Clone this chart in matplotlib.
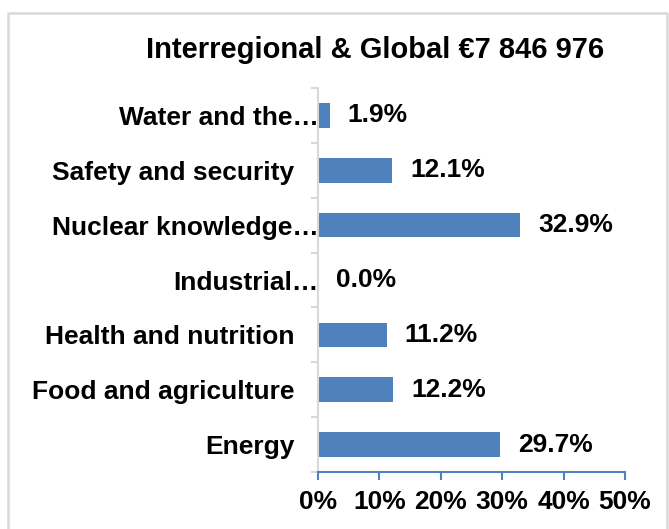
import matplotlib.pyplot as plt
from matplotlib.lines import Line2D
import matplotlib.transforms as mtransforms
import numpy as np

plt.rcParams['font.family'] = ['Liberation Sans', 'DejaVu Sans']
plt.rcParams['font.weight'] = 'bold'

# data (top to bottom in picture)
categories = ["Water and the…", "Safety and security", "Nuclear knowledge…",
              "Industrial…", "Health and nutrition", "Food and agriculture", "Energy"]
shares = [1.9, 12.1, 32.9, 0.0, 11.2, 12.2, 29.7]
xticks = [0, 10, 20, 30, 40, 50]

W, H = 669, 529
fig = plt.figure(figsize=(W / 100, H / 100), dpi=100)
ax = fig.add_axes([318/W, 1 - 472/H, 307/W, 384/H])

# light grey frame round the chart (left, top, right)
fx = [7.5/W, 7.5/W, 667/W, 667/W]
fy = [0, 1 - 12.5/H, 1 - 12.5/H, 0]
fig.add_artist(Line2D(fx, fy, transform=fig.transFigure, color='#d9d9d9', linewidth=1.8))

y = np.arange(len(categories))[::-1]
ax.barh(y, shares, height=0.45, color='#4f81bd')

for yi, v in zip(y, shares):
    ax.annotate(f"{v:.1f}%", (v, yi), xytext=(13, 0), textcoords='offset points',
                va='center', ha='left', fontsize=19, fontweight='bold')

ax.set_xlim(0, 50)
ax.set_ylim(-0.5, len(categories) - 0.5)
ax.set_xticks(xticks)
ax.set_xticklabels([f"{t}%" for t in xticks], fontsize=19, fontweight='bold')
ax.set_yticks(y)
ax.set_yticklabels(categories, fontsize=19, fontweight='bold')
ax.set_yticks(np.arange(len(categories) + 1) - 0.5, minor=True)
ax.tick_params(axis='y', which='major', length=0, pad=17)
ax.tick_params(axis='y', which='minor', length=5, color='#d9d9d9', width=1.5)
ax.tick_params(axis='x', length=6, color='#4f81bd', width=1.5, pad=7)

# truncated labels sit closer to the axis, like in Excel
shift = mtransforms.ScaledTranslation(24/100, 0, fig.dpi_scale_trans)
for lab in ax.get_yticklabels():
    if lab.get_text().endswith("…"):
        lab.set_transform(lab.get_transform() + shift)

for s in ['top', 'right']:
    ax.spines[s].set_visible(False)
ax.spines['left'].set_color('#d9d9d9')
ax.spines['left'].set_linewidth(1.5)
ax.spines['bottom'].set_color('#4f81bd')
ax.spines['bottom'].set_linewidth(1.5)

fig.text(375/W, 1 - 50/H, "Interregional & Global €7 846 976",
         ha='center', va='center', fontsize=21, fontweight='bold')

fig.savefig("out.png", dpi=100)
